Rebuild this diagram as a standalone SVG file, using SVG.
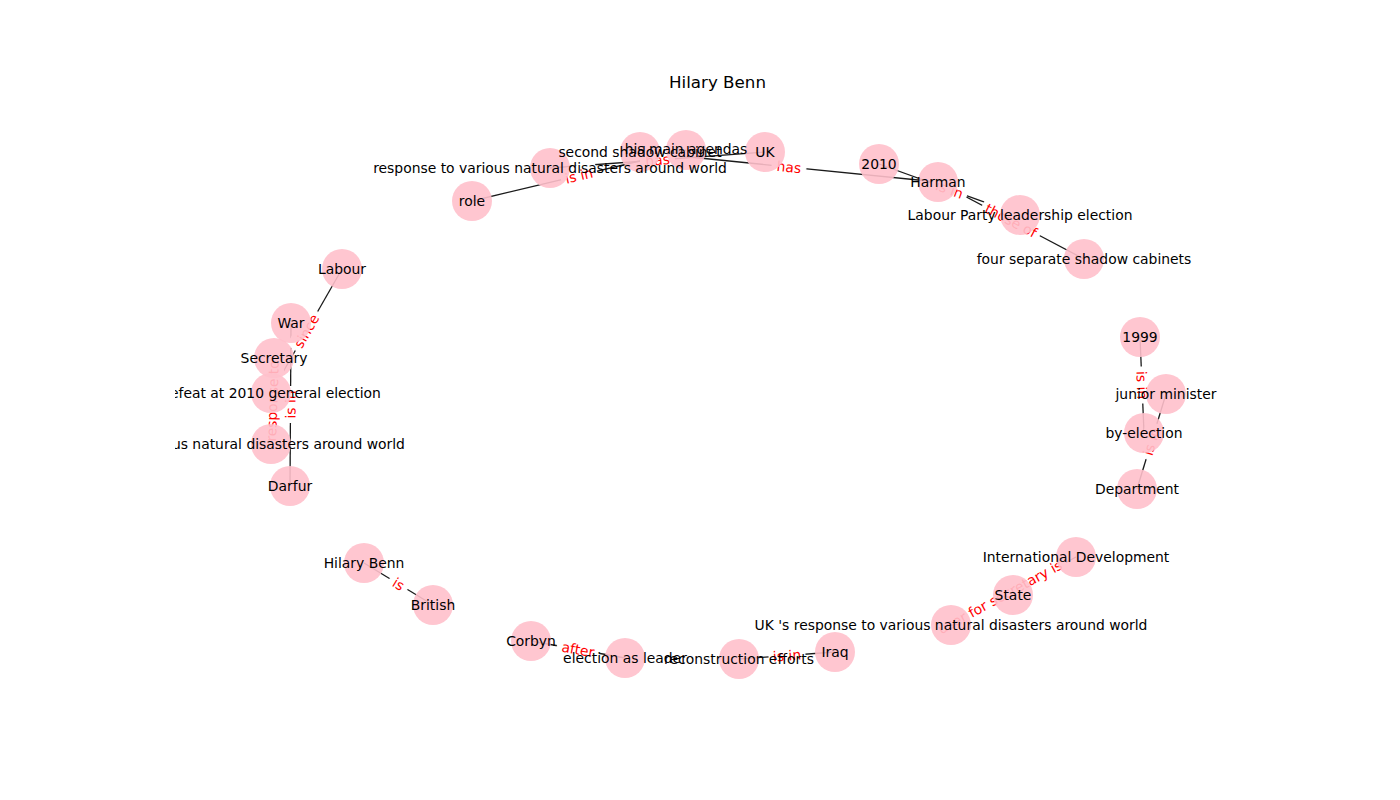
<svg xmlns="http://www.w3.org/2000/svg" width="1400" height="800" viewBox="0 0 1400 800">
<style>
  .edge { stroke: #1a1a1a; stroke-width: 1.3; fill: none; }
  .elbl rect { fill: #ffffff; stroke: #ffffff; }
  .elbl text { fill: #ff0000; font-family: "DejaVu Sans", sans-serif; font-size: 13.9px; text-anchor: middle; dominant-baseline: central; }
  .node circle { fill: #ffc0cb; fill-opacity: 0.9; }
  .nlbl { fill: #000000; font-family: "DejaVu Sans", sans-serif; font-size: 13.9px; text-anchor: middle; dominant-baseline: central; }
  .title { fill: #000000; font-family: "DejaVu Sans", sans-serif; font-size: 16.7px; text-anchor: middle; }
</style>
<defs>
  <clipPath id="axes"><rect x="175" y="96" width="1085" height="616"/></clipPath>
</defs>
<rect x="0" y="0" width="1400" height="800" fill="#ffffff"/>
<text class="title" x="717.5" y="88">Hilary Benn</text>

<g id="connectors">
  <line class="edge" x1="472" y1="201" x2="686" y2="150"/>
  <line class="edge" x1="550" y1="168" x2="765" y2="152"/>
  <line class="edge" x1="640" y1="152" x2="938" y2="182"/>
  <line class="edge" x1="879" y1="164" x2="1020" y2="215"/>
  <line class="edge" x1="938" y1="182" x2="1084" y2="259"/>
  <line class="edge" x1="1140" y1="337" x2="1144" y2="433"/>
  <line class="edge" x1="1166" y1="394" x2="1137" y2="489"/>
  <line class="edge" x1="951" y1="625" x2="1076" y2="557"/>
  <line class="edge" x1="835" y1="652" x2="739" y2="659"/>
  <line class="edge" x1="531" y1="641" x2="625" y2="658"/>
  <line class="edge" x1="364" y1="563" x2="433" y2="605"/>
  <line class="edge" x1="291" y1="323" x2="290" y2="486"/>
  <line class="edge" x1="274" y1="358" x2="271" y2="444"/>
  <line class="edge" x1="342" y1="269" x2="271" y2="393"/>
</g>

<g id="edge-labels" clip-path="url(#axes)">
  <g class="elbl" transform="translate(579,175.5) rotate(-13.4)"><rect x="-18" y="-10" width="36" height="20" rx="4"/><text>is in</text></g>
  <g class="elbl" transform="translate(657.5,160) rotate(-4.3)"><rect x="-17" y="-10" width="34" height="20" rx="4"/><text>has</text></g>
  <g class="elbl" transform="translate(789,167) rotate(5.7)"><rect x="-17" y="-10" width="34" height="20" rx="4"/><text>has</text></g>
  <g class="elbl" transform="translate(949.5,189.5) rotate(19.9)"><rect x="-18" y="-10" width="36" height="20" rx="4"/><text>is in</text></g>
  <g class="elbl" transform="translate(1011,220.5) rotate(27.8)"><rect x="-32" y="-10" width="64" height="20" rx="4"/><text>those of</text></g>
  <g class="elbl" transform="translate(1142,385) rotate(87.6)"><rect x="-18" y="-10" width="36" height="20" rx="4"/><text>is in</text></g>
  <g class="elbl" transform="translate(1151.5,441.5) rotate(-73)"><rect x="-18" y="-10" width="36" height="20" rx="4"/><text>is in</text></g>
  <g class="elbl" transform="translate(1000,597) rotate(-28.5)"><rect x="-74" y="-10" width="148" height="20" rx="4"/><text>user for secretary is</text></g>
  <g class="elbl" transform="translate(787,655.5) rotate(-4.2)"><rect x="-18" y="-10" width="36" height="20" rx="4"/><text>is in</text></g>
  <g class="elbl" transform="translate(578,649.5) rotate(10.3)"><rect x="-21" y="-10" width="42" height="20" rx="4"/><text>after</text></g>
  <g class="elbl" transform="translate(398.5,584) rotate(31.3)"><rect x="-10" y="-10" width="20" height="20" rx="4"/><text>is</text></g>
  <g class="elbl" transform="translate(290.5,404.5) rotate(-89.65)"><rect x="-18" y="-10" width="36" height="20" rx="4"/><text>is in</text></g>
  <g class="elbl" transform="translate(272.5,401) rotate(-88)"><rect x="-45" y="-10" width="90" height="20" rx="4"/><text>response to</text></g>
  <g class="elbl" transform="translate(306.5,331) rotate(-60.2)"><rect x="-22" y="-10" width="44" height="20" rx="4"/><text>since</text></g>
</g>

<g id="nodes">
  <g id="node-role" class="node"><circle cx="472" cy="201" r="20"/></g>
  <g id="node-response-top" class="node"><circle cx="550" cy="168" r="20"/></g>
  <g id="node-second-shadow-cabinet" class="node"><circle cx="640" cy="152" r="20"/></g>
  <g id="node-his-main-agendas" class="node"><circle cx="686" cy="150" r="20"/></g>
  <g id="node-uk" class="node"><circle cx="765" cy="152" r="20"/></g>
  <g id="node-2010" class="node"><circle cx="879" cy="164" r="20"/></g>
  <g id="node-harman" class="node"><circle cx="938" cy="182" r="20"/></g>
  <g id="node-labour-party-leadership-election" class="node"><circle cx="1020" cy="215" r="20"/></g>
  <g id="node-four-separate-shadow-cabinets" class="node"><circle cx="1084" cy="259" r="20"/></g>
  <g id="node-1999" class="node"><circle cx="1140" cy="337" r="20"/></g>
  <g id="node-junior-minister" class="node"><circle cx="1166" cy="394" r="20"/></g>
  <g id="node-by-election" class="node"><circle cx="1144" cy="433" r="20"/></g>
  <g id="node-department" class="node"><circle cx="1137" cy="489" r="20"/></g>
  <g id="node-international-development" class="node"><circle cx="1076" cy="557" r="20"/></g>
  <g id="node-state" class="node"><circle cx="1013" cy="595" r="20"/></g>
  <g id="node-uk-response" class="node"><circle cx="951" cy="625" r="20"/></g>
  <g id="node-iraq" class="node"><circle cx="835" cy="652" r="20"/></g>
  <g id="node-reconstruction-efforts" class="node"><circle cx="739" cy="659" r="20"/></g>
  <g id="node-election-as-leader" class="node"><circle cx="625" cy="658" r="20"/></g>
  <g id="node-corbyn" class="node"><circle cx="531" cy="641" r="20"/></g>
  <g id="node-british" class="node"><circle cx="433" cy="605" r="20"/></g>
  <g id="node-hilary-benn" class="node"><circle cx="364" cy="563" r="20"/></g>
  <g id="node-darfur" class="node"><circle cx="290" cy="486" r="20"/></g>
  <g id="node-various-natural-disasters" class="node"><circle cx="271" cy="444" r="20"/></g>
  <g id="node-defeat" class="node"><circle cx="271" cy="393" r="20"/></g>
  <g id="node-secretary" class="node"><circle cx="274" cy="358" r="20"/></g>
  <g id="node-war" class="node"><circle cx="291" cy="323" r="20"/></g>
  <g id="node-labour" class="node"><circle cx="342" cy="269" r="20"/></g>
</g>

<g id="node-labels" clip-path="url(#axes)">
  <text class="nlbl" x="472" y="201">role</text>
  <text class="nlbl" x="550" y="168">response to various natural disasters around world</text>
  <text class="nlbl" x="640" y="152">second shadow cabinet</text>
  <text class="nlbl" x="686" y="149">his main agendas</text>
  <text class="nlbl" x="765" y="152">UK</text>
  <text class="nlbl" x="879" y="164">2010</text>
  <text class="nlbl" x="938" y="182">Harman</text>
  <text class="nlbl" x="1020" y="215">Labour Party leadership election</text>
  <text class="nlbl" x="1084" y="259">four separate shadow cabinets</text>
  <text class="nlbl" x="1140" y="337">1999</text>
  <text class="nlbl" x="1166" y="394">junior minister</text>
  <text class="nlbl" x="1144" y="433">by-election</text>
  <text class="nlbl" x="1137" y="489">Department</text>
  <text class="nlbl" x="1076" y="557">International Development</text>
  <text class="nlbl" x="1013" y="595">State</text>
  <text class="nlbl" x="951" y="625">UK 's response to various natural disasters around world</text>
  <text class="nlbl" x="835" y="652">Iraq</text>
  <text class="nlbl" x="739" y="659">reconstruction efforts</text>
  <text class="nlbl" x="625" y="658">election as leader</text>
  <text class="nlbl" x="531" y="641">Corbyn</text>
  <text class="nlbl" x="433" y="605">British</text>
  <text class="nlbl" x="364" y="563">Hilary Benn</text>
  <text class="nlbl" x="290" y="486">Darfur</text>
  <text class="nlbl" x="271" y="444">various natural disasters around world</text>
  <text class="nlbl" x="271" y="393">defeat at 2010 general election</text>
  <text class="nlbl" x="274" y="358">Secretary</text>
  <text class="nlbl" x="291" y="323">War</text>
  <text class="nlbl" x="342" y="269">Labour</text>
</g>
</svg>
